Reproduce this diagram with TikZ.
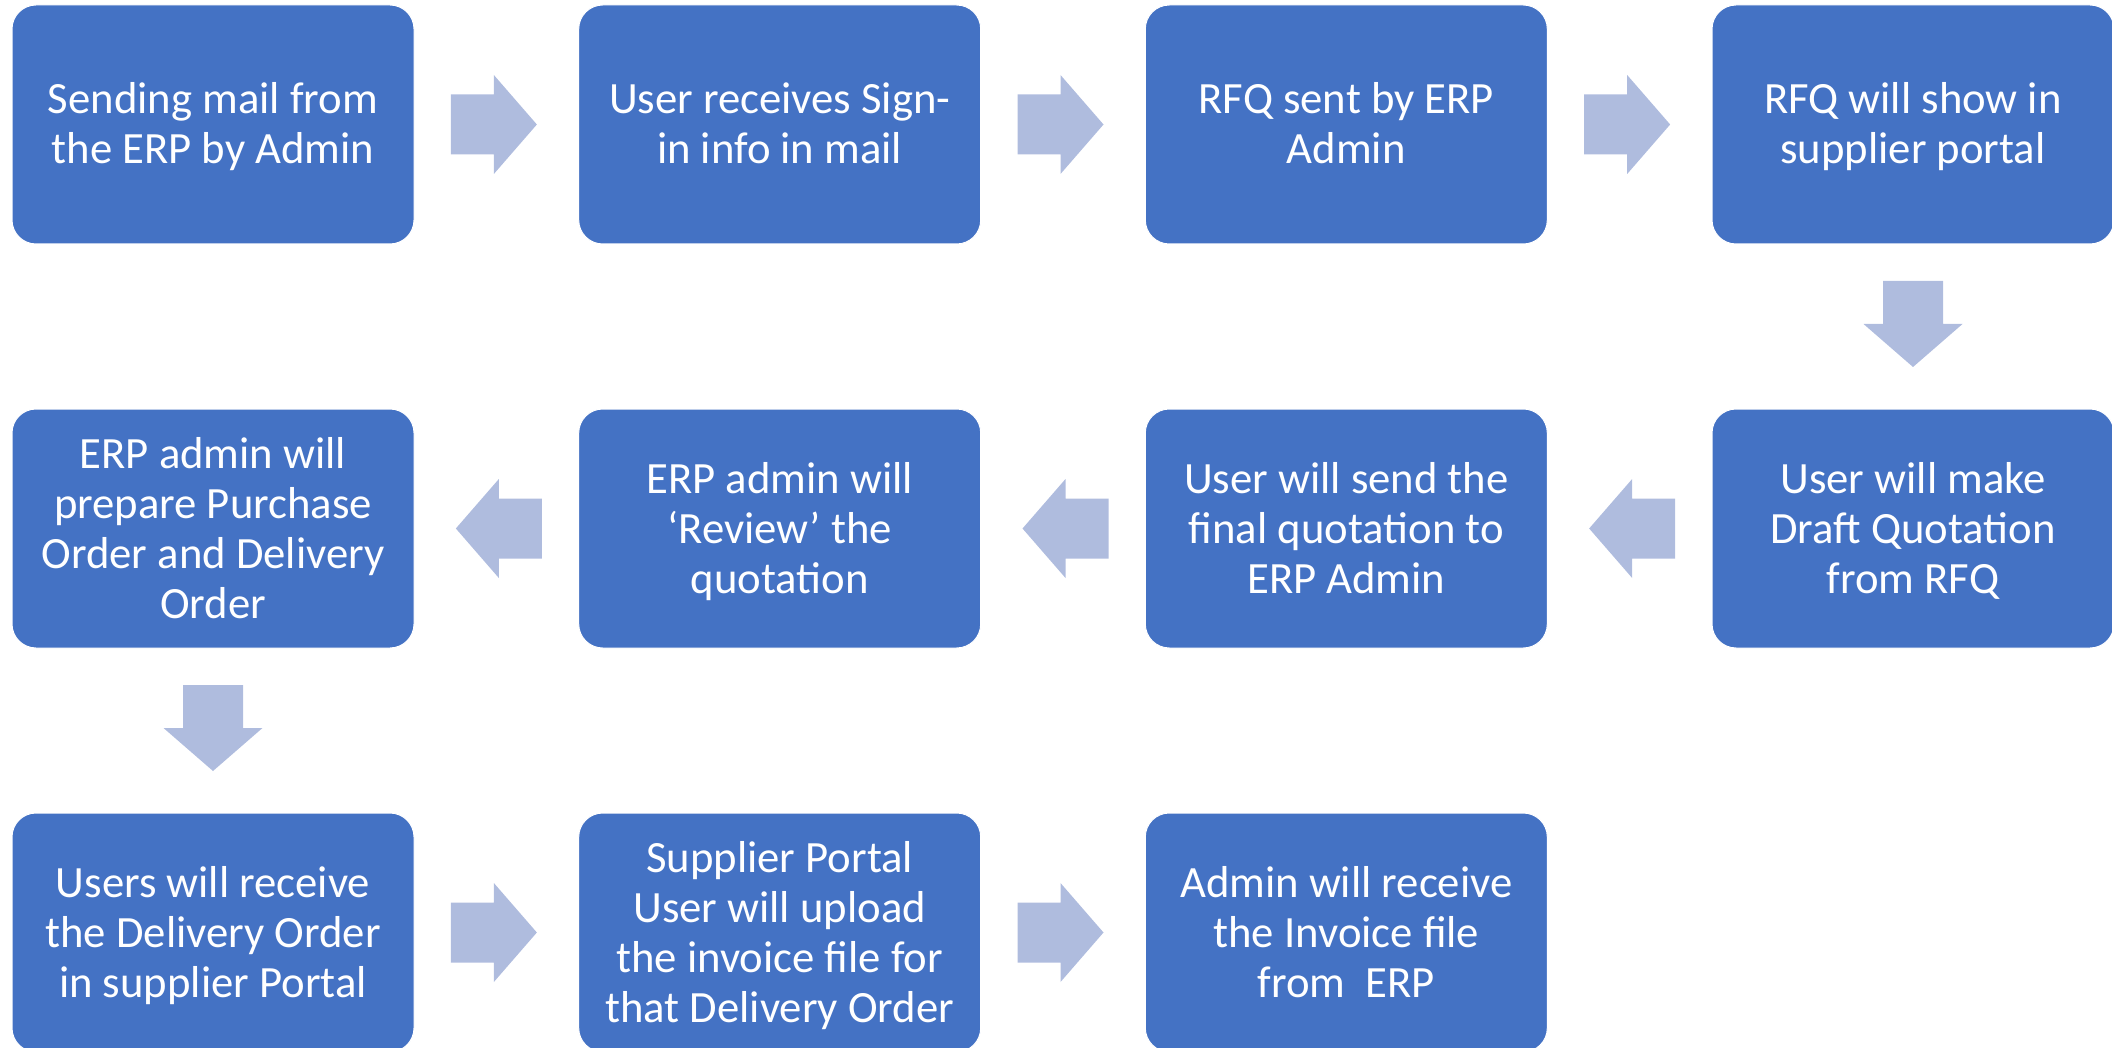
\documentclass[tikz,border=0pt]{standalone}
\usepackage{fontspec}
\setmainfont{Carlito}
\usetikzlibrary{calc}

\definecolor{boxblue}{RGB}{68,114,196}
\definecolor{arrowblue}{RGB}{175,188,222}

% fixed line height/depth so every text block is centred the same way
\newcommand\lnstrut{\rule[-10.5pt]{0pt}{50pt}}

\tikzset{
  stepbox/.style={
    rectangle, rounded corners=24pt, fill=boxblue, draw=white, line width=1pt,
    minimum width=402pt, minimum height=239pt, inner sep=0pt,
    text=white, align=center,
    font=\fontsize{44.7}{50}\selectfont
  },
  arrowshape/.style={fill=arrowblue, draw=none},
  pics/flowarrow/.style={
    code={
      \path[arrowshape] (-45.5,-30) -- (-2.5,-30) -- (-2.5,-49.5) -- (40.5,0)
        -- (-2.5,49.5) -- (-2.5,30) -- (-45.5,30) -- cycle;
    }
  }
}

\begin{document}
\begin{tikzpicture}[x=1pt,y=1pt]
  \useasboundingbox (0,0) rectangle (2112,-1048);
  \clip (0,0) rectangle (2112,-1048);

  % process steps, three rows of four columns
  \node[stepbox] (s1) at (213,-124.5)    {\lnstrut Sending mail from\\\lnstrut the ERP by Admin};
  \node[stepbox] (s2) at (779.7,-124.5)  {\lnstrut User receives Sign-\\\lnstrut in info in mail};
  \node[stepbox] (s3) at (1346.3,-124.5) {\lnstrut RFQ sent by ERP\\\lnstrut Admin};
  \node[stepbox] (s4) at (1913,-124.5)   {\lnstrut RFQ will show in\\\lnstrut supplier portal};

  \node[stepbox] (s5) at (1913,-528.5)   {\lnstrut User will make\\\lnstrut Draft Quotation\\\lnstrut from RFQ};
  \node[stepbox] (s6) at (1346.3,-528.5) {\lnstrut User will send the\\\lnstrut final quotation to\\\lnstrut ERP Admin};
  \node[stepbox] (s7) at (779.7,-528.5)  {\lnstrut ERP admin will\\\lnstrut ‘Review’ the\\\lnstrut quotation};
  \node[stepbox] (s8) at (213,-528.5)    {\lnstrut ERP admin will\\\lnstrut prepare Purchase\\\lnstrut Order and Delivery\\\lnstrut Order};

  \node[stepbox] (s9)  at (213,-932.5)    {\lnstrut Users will receive\\\lnstrut the Delivery Order\\\lnstrut in supplier Portal};
  \node[stepbox] (s10) at (779.7,-932.5)  {\lnstrut Supplier Portal\\\lnstrut User will upload\\\lnstrut the invoice file for\\\lnstrut that Delivery Order};
  \node[stepbox] (s11) at (1346.3,-932.5) {\lnstrut Admin will receive\\\lnstrut the Invoice file\\\lnstrut from\ \ ERP};

  % block arrows between consecutive steps
  \pic at ($(s1.east)!0.5!(s2.west)$) {flowarrow};
  \pic at ($(s2.east)!0.5!(s3.west)$) {flowarrow};
  \pic at ($(s3.east)!0.5!(s4.west)$) {flowarrow};
  \pic[rotate=-90] at ($(s4.south)!0.5!(s5.north)$) {flowarrow};
  \pic[rotate=180] at ($(s5.west)!0.5!(s6.east)$) {flowarrow};
  \pic[rotate=180] at ($(s6.west)!0.5!(s7.east)$) {flowarrow};
  \pic[rotate=180] at ($(s7.west)!0.5!(s8.east)$) {flowarrow};
  \pic[rotate=-90] at ($(s8.south)!0.5!(s9.north)$) {flowarrow};
  \pic at ($(s9.east)!0.5!(s10.west)$) {flowarrow};
  \pic at ($(s10.east)!0.5!(s11.west)$) {flowarrow};
\end{tikzpicture}
\end{document}
